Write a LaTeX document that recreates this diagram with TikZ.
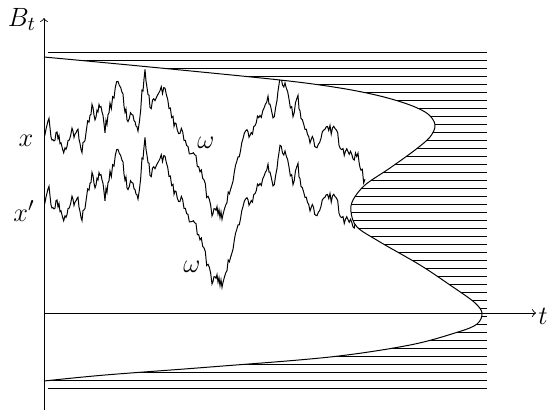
\documentclass[tikz,border=0pt]{standalone}
\begin{document}
\begin{tikzpicture}[x=0.4545pt,y=-0.4545pt,
  font=\fontsize{13}{15}\selectfont,
  hatch/.style={line width=0.46pt},
  bdry/.style={line width=0.45pt},
  axisline/.style={line width=0.4pt,->},
  bm/.style={line width=0.45pt, line join=miter},
  lbl/.style={inner sep=0pt}]
\useasboundingbox (0,0) rectangle (548,414);
\def\skel{47/127, 49/120, 51/133, 53/140, 56/134, 58/137, 61/145, 65/152, 68/140, 72/132, 75/135, 77/128, 80/142, 82/150, 85/138, 89/118, 92/107, 95/122, 98/110, 100/105, 103/120, 105/130, 108/115, 110/108, 114/98, 118/80, 122/90, 125/108, 128/122, 133/113, 136/125, 138/130, 142/95, 145/73, 148/92, 150/107, 155/96, 160/88, 165/93, 169/108, 173/118, 176/128, 180/130, 184/138, 188/148, 192/152, 196/160, 200/167, 204/182, 208/200, 212/212, 215/205, 217/210, 220/215, 223/218, 227/200, 233/177, 238/158, 243/140, 247/127, 250/140, 255/125, 260/115, 264/108, 268/100, 271/112, 273/120, 277/98, 280/82, 285/85, 289/100, 293/113, 298/100, 301/115, 305/128, 310/138, 317/147, 321/138, 325/132, 330/130, 335/128, 339/142, 343/153, 348/150, 353/157, 358/153, 361/168, 365/183}
% hatching
\foreach \k in {0,...,42}
  \draw[hatch] (48,{52.5+8*\k}) -- (487,{52.5+8*\k});
% clear the domain
\fill[white] (44,57) -- plot[smooth,tension=0.55] coordinates {(44,57) (150,67) (280,80) (340,88) (380,96) (410,105) (428,114) (435,125) (430,137) (415,150) (390,168) (365,185) (353,200) (351,212) (357,227) (380,242) (420,265) (450,285) (474,302) (482,313) (477,324) (458,332) (410,345) (330,357) (210,367) (105,375) (44,381)} -- cycle;
% boundary curve
\draw[bdry] plot[smooth,tension=0.55] coordinates {(44,57) (150,67) (280,80) (340,88) (380,96) (410,105) (428,114) (435,125) (430,137) (415,150) (390,168) (365,185) (353,200) (351,212) (357,227) (380,242) (420,265) (450,285) (474,302) (482,313) (477,324) (458,332) (410,345) (330,357) (210,367) (105,375) (44,381)};
% axes
\coordinate (o) at (44,410);
\coordinate (ytop) at (44,18);
\coordinate (xl) at (44,313);
\coordinate (xr) at (536,313);
\draw[axisline] (o) -- (ytop);
\draw[axisline] (xl) -- (xr);
\node[lbl] (lB) at (22,19) {$B_t$};
\node[lbl] (lt) at (543,316) {$t$};
\node[lbl] (lx) at (26,141) {$x$};
\node[lbl] (lxp) at (24,211) {$x'$};
\node[lbl] (lw1) at (206,143) {$\omega$};
\node[lbl] (lw2) at (192,267) {$\omega$};
% Brownian paths
\begin{scope}
\clip (44,57) -- plot[smooth,tension=0.55] coordinates {(44,57) (150,67) (280,80) (340,88) (380,96) (410,105) (428,114) (435,125) (430,137) (415,150) (390,168) (365,185) (353,200) (351,212) (357,227) (380,242) (420,265) (450,285) (474,302) (482,313) (477,324) (458,332) (410,345) (330,357) (210,367) (105,375) (44,381)} -- cycle;
\pgfmathsetseed{11}
\draw[bm] (44,138) \foreach \x/\y [remember=\x as \lx (initially 44), remember=\y as \ly (initially 138), evaluate=\x as \n using {int(max(1,round(abs(\x-\lx)/1.2)))}] in \skel { \foreach \j in {1,...,\n} { -- ({\lx+(\x-\lx)*\j/\n},{\ly+(\y-\ly)*\j/\n+5*rand}) } };
\clip (0,0) rectangle (356,414);
\begin{scope}[shift={(0,68)}]
\pgfmathsetseed{11}
\draw[bm] (44,138) \foreach \x/\y [remember=\x as \lx (initially 44), remember=\y as \ly (initially 138), evaluate=\x as \n using {int(max(1,round(abs(\x-\lx)/1.2)))}] in \skel { \foreach \j in {1,...,\n} { -- ({\lx+(\x-\lx)*\j/\n},{\ly+(\y-\ly)*\j/\n+5*rand}) } };
\end{scope}
\end{scope}
\end{tikzpicture}
\end{document}
